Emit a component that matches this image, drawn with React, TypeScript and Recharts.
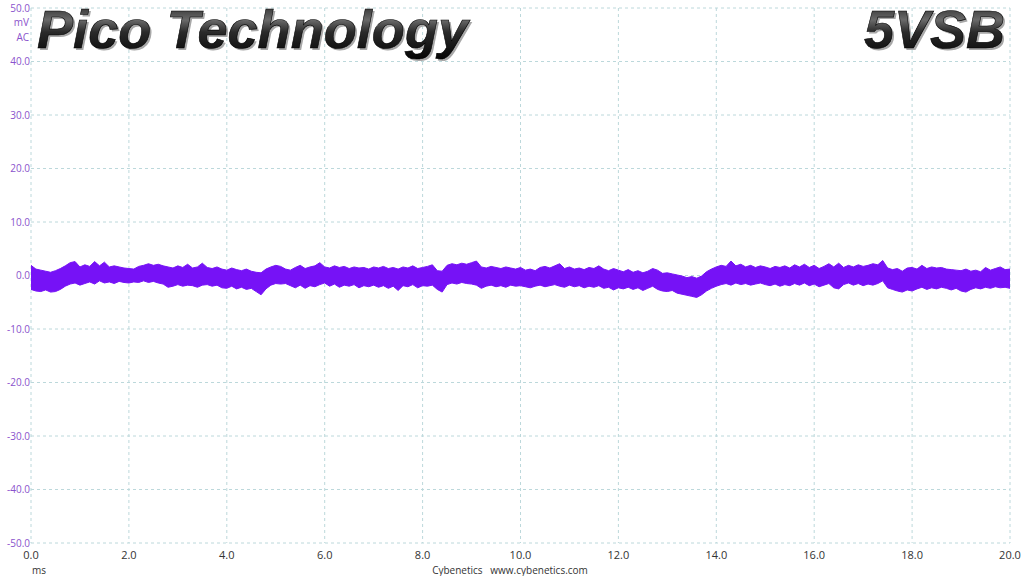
import React from "react";
import { ComposedChart, Area, XAxis, YAxis, CartesianGrid } from "recharts";

// time in ms, step 0.1 ms
const timeMs: number[] = Array.from({ length: 201 }, (_, i) => Math.round(i) / 10);

// upper envelope (mV)
const highMv: number[] = [
  1.9, 1.2, 1.0, 0.8, 0.6, 0.9, 1.3, 1.8, 2.4, 2.6,
  1.6, 2.0, 1.7, 2.6, 1.8, 2.5, 1.6, 1.8, 1.6, 1.4,
  1.3, 1.2, 1.7, 1.9, 2.2, 1.9, 2.1, 1.8, 1.6, 1.4,
  1.8, 1.5, 2.1, 1.4, 1.6, 2.3, 1.5, 1.3, 1.6, 1.2,
  1.0, 1.4, 1.1, 0.9, 1.2, 0.8, 0.6, 0.5, 1.2, 1.6,
  1.9, 1.7, 1.2, 1.0, 1.5, 1.9, 1.3, 1.6, 1.8, 2.4,
  1.6, 1.4, 1.8, 1.5, 1.7, 1.3, 1.6, 1.4, 1.5, 1.2,
  1.6, 1.4, 1.7, 1.3, 1.5, 1.2, 1.6, 1.4, 1.8, 1.3,
  1.5, 1.7, 2.0, 0.9, 0.8, 1.9, 2.2, 2.0, 2.3, 2.1,
  2.4, 2.7, 1.6, 1.4, 1.7, 1.5, 1.3, 1.6, 1.4, 1.2,
  1.5, 1.0, 1.2, 0.9, 1.5, 1.7, 1.4, 1.8, 2.2, 1.3,
  1.6, 1.2, 1.4, 1.1, 1.5, 1.3, 1.8, 1.2, 0.9, 1.3,
  1.0, 0.7, 1.1, 0.6, 0.9, 0.5, 0.8, 1.3, 1.0, 0.4,
  0.5, 0.3, 0.1, -0.1, -0.4, -0.2, -0.5, -0.1, 0.7, 1.2,
  1.6, 1.9, 1.7, 2.7, 1.8, 2.1, 1.6, 1.9, 1.5, 1.8,
  1.6, 1.3, 1.7, 1.5, 1.8, 1.4, 2.0, 1.6, 2.1, 1.5,
  1.9, 1.3, 1.7, 2.2, 1.6, 2.3, 1.5, 1.9, 1.6, 2.0,
  1.7, 1.9, 2.2, 2.0, 2.8, 1.4, 1.1, 1.3, 0.8, 1.4,
  1.5, 1.2, 1.9, 1.3, 1.6, 1.4, 1.5, 1.2, 1.1, 1.0,
  0.9, 1.2, 0.8, 1.0, 0.7, 1.5, 1.0, 1.3, 1.6, 1.1,
  1.2,
];

// lower envelope (mV)
const lowMv: number[] = [
  -2.6, -2.9, -3.0, -2.7, -3.1, -3.0, -2.6, -2.0, -1.6, -1.4,
  -1.8, -1.5, -1.2, -1.6, -1.0, -1.4, -1.2, -1.5, -1.1, -1.3,
  -1.4, -1.2, -1.3, -1.0, -1.3, -1.1, -1.4, -1.6, -2.2, -2.0,
  -1.7, -2.0, -1.8, -1.9, -2.2, -1.8, -1.7, -2.0, -1.8, -2.3,
  -2.4, -2.0, -2.5, -2.2, -2.6, -2.4, -3.0, -3.6, -2.5, -1.8,
  -1.5, -1.6, -1.5, -1.9, -2.3, -1.8, -2.4, -1.9, -2.1, -1.7,
  -1.4, -2.0, -1.6, -2.2, -1.8, -2.0, -1.7, -2.3, -1.9, -2.1,
  -1.8, -2.2, -1.9, -2.4, -2.0, -2.8, -1.9, -2.1, -1.7, -2.3,
  -1.9, -2.0, -1.8, -2.6, -3.1, -1.7, -1.4, -1.6, -1.3, -1.5,
  -1.6, -1.8, -2.4, -2.0, -1.8, -2.1, -1.9, -2.2, -1.8, -2.0,
  -1.9, -2.1, -2.3, -2.0, -1.8, -2.1, -1.9, -1.7, -2.0, -2.2,
  -1.8, -2.1, -1.9, -2.3, -2.0, -2.2, -1.9, -2.4, -2.2, -2.7,
  -2.3, -2.5, -2.2, -2.6, -2.3, -2.8, -2.4, -2.0, -2.6, -2.9,
  -3.0, -2.8, -3.3, -3.5, -3.7, -3.9, -4.1, -3.6, -2.9, -2.4,
  -2.0, -1.7, -1.5, -1.8, -1.4, -1.7, -1.5, -1.8, -1.6, -1.4,
  -1.7, -1.9, -1.6, -2.0, -1.7, -1.9, -1.5, -1.8, -1.4, -1.9,
  -1.6, -2.1, -1.8, -1.5, -2.3, -2.5, -1.7, -1.4, -1.8, -1.5,
  -1.9, -1.6, -1.8, -1.5, -1.0, -2.3, -2.6, -2.9, -3.1, -2.7,
  -2.9, -2.5, -2.2, -2.6, -2.3, -2.5, -2.2, -2.4, -2.7, -2.4,
  -2.9, -3.1, -2.6, -2.3, -2.5, -2.2, -2.4, -2.1, -2.3, -2.2,
  -2.4,
];

const xTicks: number[] = [0, 2, 4, 6, 8, 10, 12, 14, 16, 18, 20];
const yTicks: number[] = [-50, -40, -30, -20, -10, 0, 10, 20, 30, 40, 50];

const titleLeft = "Pico Technology";
const titleRight = "5VSB";
const xUnit = "ms";
const yUnit = "mV";
const yCoupling = "AC";
const footer = "Cybenetics   www.cybenetics.com";

const data = timeMs.map((t, i) => ({ t, band: [lowMv[i], highMv[i]] }));

const TRACE = "#7612f6";
const GRID = "#bcd8db";
const YLAB = "#8a52cc";
const FONT = "'Open Sans', 'Noto Sans', sans-serif";

export default function App() {
  return (
    <div style={{ position: "absolute", left: 0, top: 0, width: 1024, height: 576, background: "#fff" }}>
      <ComposedChart
        width={1024}
        height={576}
        data={data}
        margin={{ top: 8, right: 14, bottom: 0, left: 0 }}
      >
        <CartesianGrid stroke={GRID} strokeDasharray="3 3" />
        <XAxis
          dataKey="t"
          type="number"
          domain={[0, 20]}
          ticks={xTicks}
          tickFormatter={(v: number) => v.toFixed(1)}
          axisLine={false}
          tickLine={false}
          tickSize={0}
          tickMargin={8}
          height={33}
          tick={{ fill: "#333", fontSize: 11, fontFamily: FONT }}
          interval={0}
        />
        <YAxis
          type="number"
          domain={[-50, 50]}
          ticks={yTicks}
          tickFormatter={(v: number) => v.toFixed(1)}
          axisLine={false}
          tickLine={false}
          tickSize={0}
          tickMargin={1}
          width={31}
          tick={{ fill: YLAB, fontSize: 10, fontFamily: FONT }}
          interval={0}
        />
        <Area
          dataKey="band"
          type="linear"
          stroke={TRACE}
          strokeWidth={1}
          fill={TRACE}
          fillOpacity={1}
          isAnimationActive={false}
          dot={false}
          activeDot={false}
        />
      </ComposedChart>
      <svg
        width={1024}
        height={576}
        style={{ position: "absolute", left: 0, top: 0, pointerEvents: "none" }}
      >
        <defs>
          <linearGradient id="chrome" x1="0" y1="0" x2="0" y2="1">
            <stop offset="0" stopColor="#1a1a1a" />
            <stop offset="0.35" stopColor="#6a6a6a" />
            <stop offset="0.55" stopColor="#2a2a2a" />
            <stop offset="1" stopColor="#050505" />
          </linearGradient>
        </defs>
        <g fontFamily="'Liberation Sans', Arial, sans-serif" fontWeight="bold" fontStyle="italic" fontSize={54}>
          <text x={39} y={50} fill="#a8a8a8" textLength={431}>{titleLeft}</text>
          <text x={37} y={48} fill="url(#chrome)" stroke="#000" strokeWidth={0.6} textLength={431}>{titleLeft}</text>
          <text x={1007} y={50} fill="#a8a8a8" textAnchor="end">{titleRight}</text>
          <text x={1005} y={48} fill="url(#chrome)" stroke="#000" strokeWidth={0.6} textAnchor="end">{titleRight}</text>
        </g>
        <g fontFamily={FONT} fontSize={10}>
          <text x={29} y={26} fill={YLAB} textAnchor="end">{yUnit}</text>
          <text x={29} y={41} fill={YLAB} textAnchor="end">{yCoupling}</text>
          <text x={32} y={574} fill="#333">{xUnit}</text>
          <text x={510} y={574} fill="#333" textAnchor="middle" style={{ whiteSpace: "pre" }}>{footer}</text>
        </g>
      </svg>
    </div>
  );
}
